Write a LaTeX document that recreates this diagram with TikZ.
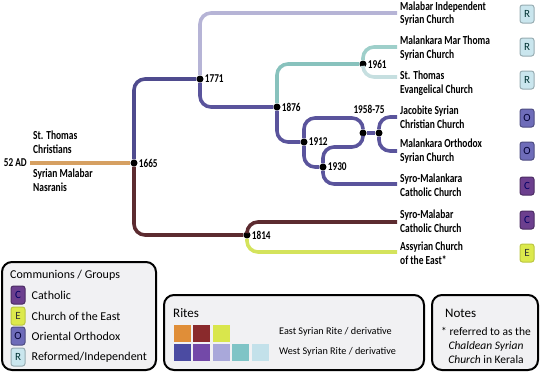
\documentclass[tikz,border=0pt]{standalone}
\usepackage{fontspec}
\setmainfont{Carlito}
\newfontfamily\condfont[FakeStretch=0.77]{Carlito}
\usepackage{xcolor}
\usetikzlibrary{positioning}

% line colours
\definecolor{lineOrange}{HTML}{D6A062}
\definecolor{lineBrown}{HTML}{5C2B30}
\definecolor{lineGreen}{HTML}{D4E35C}
\definecolor{lineSlate}{HTML}{4F4B8E}
\definecolor{linePurple}{HTML}{5A549C}
\definecolor{lineLav}{HTML}{B6B4D6}
\definecolor{lineTeal}{HTML}{88C2BD}
\definecolor{lineTealMid}{HTML}{9ECFCA}
\definecolor{lineTealLight}{HTML}{C6DFE0}
% rite swatches
\definecolor{riteOrange}{HTML}{E08E38}
\definecolor{riteRed}{HTML}{8A2A2C}
\definecolor{riteGreen}{HTML}{D9E64C}
\definecolor{riteBlue}{HTML}{4B4BA2}
\definecolor{ritePurple}{HTML}{7349A8}
\definecolor{riteLav}{HTML}{A9A8DA}
\definecolor{riteTeal}{HTML}{7FC4C6}
\definecolor{riteLight}{HTML}{C3E1EA}
% badges
\definecolor{badgeCfill}{HTML}{6C3F8E}
\definecolor{badgeEfill}{HTML}{DCE94C}
\definecolor{badgeOfill}{HTML}{6E6CB9}
\definecolor{badgeRfill}{HTML}{CAE6EE}
\definecolor{boxGray}{HTML}{F1F1F3}

\tikzset{
  branch/.style={line width=3.6pt, rounded corners=11pt},
  dot/.style={circle, fill=black, inner sep=0pt, minimum size=7pt},
  year/.style={font=\condfont\bfseries\fontsize{12}{12}\selectfont, inner sep=1pt},
  church/.style={font=\condfont\bfseries\fontsize{12.3}{13.5}\selectfont, align=left, anchor=west, inner sep=0pt},
  badge/.style={rounded corners=2.5pt, line width=1pt, minimum width=14pt, minimum height=18pt,
    inner sep=0pt, font=\fontsize{11}{11}\selectfont},
  badgeC/.style={badge, fill=badgeCfill, draw=badgeCfill!70!black, text=blue!40!black},
  badgeE/.style={badge, fill=badgeEfill, draw=badgeEfill!85!black, text=black!80},
  badgeO/.style={badge, fill=badgeOfill, draw=badgeOfill!70!black, text=blue!20!black},
  badgeR/.style={badge, fill=badgeRfill, draw=badgeRfill!75!black, text=teal!40!black},
  legendbox/.style={draw=black, line width=2pt, rounded corners=10pt, fill=boxGray},
  legendtext/.style={font=\fontsize{12}{13}\selectfont, anchor=west, inner sep=0pt},
  swatch/.style={minimum size=17pt, inner sep=0pt}
}

\begin{document}
\begin{tikzpicture}[x=1pt,y=-1pt]
  \useasboundingbox (0,0) rectangle (540,372);

  % split points
  \node[dot] (y1665) at (134,163) {};
  \node[dot] (y1771) at (200,79) {};
  \node[dot] (y1876) at (277,107) {};
  \node[dot] (y1961) at (363,64) {};
  \node[dot] (y1912) at (304,142) {};
  \node[dot] (y1930) at (323,167) {};
  \node[dot] (y1958) at (363,133) {};
  \node[dot] (y1975) at (379,133) {};
  \node[dot] (y1814) at (247,235) {};

  \node[year, right=0pt of y1665] (t1665) {1665};
  \node[year, right=0pt of y1771] (t1771) {1771};
  \node[year, right=0pt of y1876] (t1876) {1876};
  \node[year, right=0pt of y1961] (t1961) {1961};
  \node[year, right=0pt of y1912] (t1912) {1912};
  \node[year, right=0pt of y1930] (t1930) {1930};
  \node[year, right=0pt of y1814] (t1814) {1814};
  \node[year] (t1958) at (369,109) {1958-75};

  % origin
  \node[year, anchor=east, inner sep=3pt] (t52) at (30,163) {52 AD};
  \node[church] (stc) at (33,142) {St. Thomas\\Christians};
  \node[church] (smn) at (33,180) {Syrian Malabar\\Nasranis};

  % line ends
  \coordinate (eMIS) at (397,13);
  \coordinate (eMMT) at (397,47);
  \coordinate (eSTE) at (397,77);
  \coordinate (eJSC) at (397,117);
  \coordinate (eMOS) at (397,151);
  \coordinate (eSMC) at (397,184);
  \coordinate (eSMB) at (397,222);
  \coordinate (eACE) at (397,252);
  \coordinate (k1912) at (363,118);
  \coordinate (k1930) at (363,147);

  % branches
  \draw[branch, lineOrange] (t52) -- (y1665);
  \draw[branch, lineSlate] (y1665) |- (y1771);
  \draw[branch, lineBrown] (y1665) |- (y1814);
  \draw[branch, lineLav] (y1771) |- (eMIS);
  \draw[branch, linePurple] (y1771) |- (y1876);
  \draw[branch, lineTeal] (y1876) |- (y1961);
  \draw[branch, lineTealMid] (y1961) |- (eMMT);
  \draw[branch, lineTealLight] (y1961) |- (eSTE);
  \draw[branch, linePurple] (y1876) |- (y1912);
  \draw[branch, linePurple] (y1912) |- (k1912) -- (y1958);
  \draw[branch, linePurple] (y1912) |- (y1930);
  \draw[branch, linePurple] (y1930) |- (k1930) -- (y1958);
  \draw[branch, linePurple] (y1930) |- (eSMC);
  \draw[branch, linePurple] (y1958) -- (y1975);
  \draw[branch, linePurple] (y1975) |- (eJSC);
  \draw[branch, linePurple] (y1975) |- (eMOS);
  \draw[branch, lineBrown] (y1814) |- (eSMB);
  \draw[branch, lineGreen] (y1814) |- (eACE);

  % churches
  \node[church] (mis) at (400,13.5) {Malabar Independent\\Syrian Church};
  \node[church] (mmt) at (400,48) {Malankara Mar Thoma\\Syrian Church};
  \node[church] (ste) at (400,83) {St. Thomas\\Evangelical Church};
  \node[church] (jsc) at (400,117) {Jacobite Syrian\\Christian Church};
  \node[church] (mos) at (400,151) {Malankara Orthodox\\Syrian Church};
  \node[church] (smc) at (400,185) {Syro-Malankara\\Catholic Church};
  \node[church] (smb) at (400,221) {Syro-Malabar\\Catholic Church};
  \node[church] (ace) at (400,253) {Assyrian Church\\of the East*};

  \node[badgeR] (bMIS) at (527,14) {R};
  \node[badgeR] (bMMT) at (527,47) {R};
  \node[badgeR] (bSTE) at (527,80) {R};
  \node[badgeO] (bJSC) at (527,118) {O};
  \node[badgeO] (bMOS) at (527,151) {O};
  \node[badgeC] (bSMC) at (527,186) {C};
  \node[badgeC] (bSMB) at (527,220) {C};
  \node[badgeE] (bACE) at (527,253) {E};

  % communions legend
  \draw[legendbox] (2,262) rectangle (156,370);
  \node[legendtext] (lgTitle) at (10,275) {Communions / Groups};
  \node[badgeC] (lgC) at (18,295) {C};
  \node[badgeE] (lgE) at (18,316) {E};
  \node[badgeO] (lgO) at (18,336) {O};
  \node[badgeR] (lgR) at (18,357) {R};
  \node[legendtext, right=6pt of lgC] (lgCt) {Catholic};
  \node[legendtext, right=6pt of lgE] (lgEt) {Church of the East};
  \node[legendtext, right=6pt of lgO] (lgOt) {Oriental Orthodox};
  \node[legendtext, right=6pt of lgR] (lgRt) {Reformed/Independent};

  % rites legend
  \draw[legendbox] (164,295) rectangle (424,370);
  \node[legendtext, font=\fontsize{13}{14}\selectfont] (rtTitle) at (173,313) {Rites};
  \node[swatch, fill=riteOrange] (sw1) at (182.5,333.5) {};
  \node[swatch, fill=riteRed, right=2pt of sw1] (sw2) {};
  \node[swatch, fill=riteGreen, right=2pt of sw2] (sw3) {};
  \node[swatch, fill=riteBlue, below=2pt of sw1] (sw4) {};
  \node[swatch, fill=ritePurple, right=2pt of sw4] (sw5) {};
  \node[swatch, fill=riteLav, right=2pt of sw5] (sw6) {};
  \node[swatch, fill=riteTeal, right=2pt of sw6] (sw7) {};
  \node[swatch, fill=riteLight, right=2pt of sw7] (sw8) {};
  \node[legendtext, font=\fontsize{10.2}{11}\selectfont] (rtEast) at (279,332) {East Syrian Rite / derivative};
  \node[legendtext, font=\fontsize{10.2}{11}\selectfont] (rtWest) at (279,352) {West Syrian Rite / derivative};

  % notes
  \draw[legendbox] (432,295) rectangle (538,370);
  \node[legendtext, font=\fontsize{13}{14}\selectfont] (ntTitle) at (445,313) {Notes};
  \node[font=\fontsize{11.5}{14}\selectfont, align=center, inner sep=0pt] (ntText) at (486,345)
    {* referred to as the\\\textit{Chaldean Syrian}\\\textit{Church} in Kerala};
\end{tikzpicture}
\end{document}
